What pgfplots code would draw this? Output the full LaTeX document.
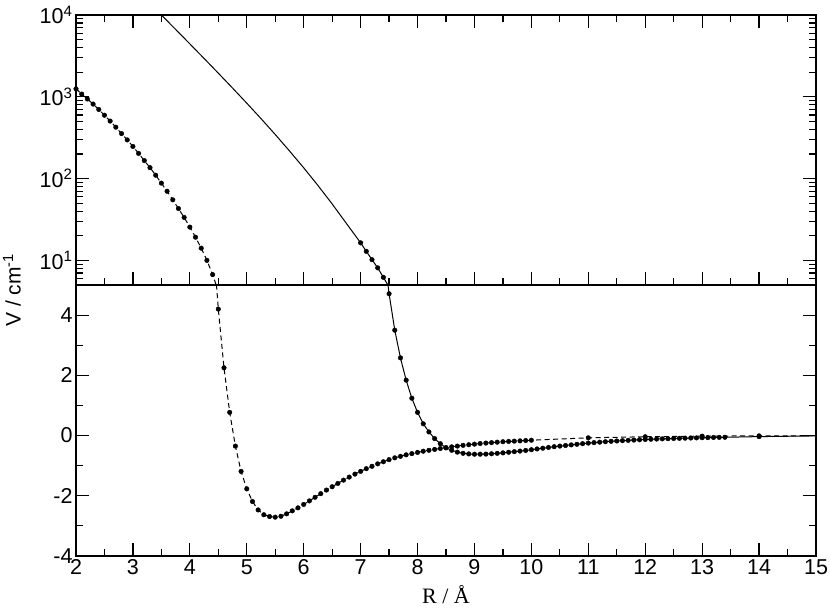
\documentclass[border=0pt]{standalone}
\usepackage{fontspec}
\setmainfont{Liberation Sans}
\newfontfamily\seriffont{Liberation Serif}
\usepackage{pgfplots}
\pgfplotsset{compat=1.18}
\begin{document}
\begin{tikzpicture}[x=1pt,y=1pt]
\path[use as bounding box] (0,0) rectangle (830,-610);
\pgfplotsset{
  every axis/.append style={
    scale only axis, width=740pt,
    xmin=2, xmax=15,
    axis line style={line width=1.6pt},
    every tick/.style={line width=1.2pt, black},
    major tick length=13pt, minor tick length=7pt,
    tick align=inside,
    xtick={2,3,4,5,6,7,8,9,10,11,12,13,14,15},
    minor xtick={2.5,3.5,4.5,5.5,6.5,7.5,8.5,9.5,10.5,11.5,12.5,13.5,14.5},
    ticklabel style={font=\fontsize{21.5}{25}\selectfont},
    /pgf/number format/assume math mode=true,
    ytick pos=both, yticklabel pos=left,
    clip=true,
  },
  Aline/.style={black, line width=1pt, dash pattern=on 5pt off 3.5pt},
  Bline/.style={black, line width=1pt},
  dot/.style={only marks, mark=*, mark size=2.3pt, mark options={solid, fill=black, draw=black}},
}
% ---------- top panel (log) ----------
\begin{axis}[at={(76pt,-15pt)}, anchor=north west, height=270pt,
  ymode=log, ymin=5, ymax=10000,
  ytick={10,100,1000,10000},
  yticklabels={10\textsuperscript{1},10\textsuperscript{2},10\textsuperscript{3},10\textsuperscript{4}},
  minor ytick={6,7,8,9,20,30,40,50,60,70,80,90,200,300,400,500,600,700,800,900,2000,3000,4000,5000,6000,7000,8000,9000},
  xticklabels={}, xtick pos=both]
\addplot[Aline] coordinates {
(2.0,1250)(2.1,1080)(2.2,940)(2.3,815)(2.4,700)(2.5,595)(2.6,505)(2.7,425)(2.8,355)(2.9,297)
(3.0,247)(3.1,203)(3.2,166)(3.3,136)(3.4,110)(3.5,88)(3.6,70)(3.7,55)(3.8,43)(3.9,33.5)
(4.0,25.5)(4.1,19.2)(4.2,14.1)(4.3,10.0)(4.4,6.7)(4.5,4.2)};
\addplot[dot] coordinates {
(2.0,1250)(2.1,1080)(2.2,940)(2.3,815)(2.4,700)(2.5,595)(2.6,505)(2.7,425)(2.8,355)(2.9,297)
(3.0,247)(3.1,203)(3.2,166)(3.3,136)(3.4,110)(3.5,88)(3.6,70)(3.7,55)(3.8,43)(3.9,33.5)
(4.0,25.5)(4.1,19.2)(4.2,14.1)(4.3,10.0)(4.4,6.7)};
\addplot[Bline] coordinates {
(3.45,10840)(3.5,10000)(3.75,6668)(4.0,4436)(4.25,2944)(4.5,1945)(4.75,1279)(5.0,836)
(5.25,541)(5.5,346)(5.75,218)(6.0,135.5)(6.25,82.4)(6.5,49.0)(6.75,28.3)
(7.0,16.4)(7.1,12.9)(7.2,10.2)(7.3,8.1)(7.4,6.2)(7.5,4.71)};
\addplot[dot] coordinates {(7.0,16.4)(7.1,12.9)(7.2,10.2)(7.3,8.1)(7.4,6.2)};
\end{axis}
% ---------- bottom panel (linear) ----------
\begin{axis}[at={(76pt,-285pt)}, anchor=north west, height=271pt,
  ymin=-4, ymax=5,
  ytick={-4,-2,0,2,4}, yticklabels={-4,-2,0,2,4},
  minor ytick={-3,-1,1,3},
  xticklabels={2,3,4,5,6,7,8,9,10,11,12,13,14,15},
  xtick pos=left]
\addplot[Aline] coordinates {
(4.4,6.7)(4.5,4.2)(4.6,2.25)(4.7,0.77)(4.8,-0.35)(4.9,-1.19)(5.0,-1.77)(5.1,-2.19)(5.2,-2.47)
(5.3,-2.63)(5.4,-2.69)(5.5,-2.71)(5.6,-2.68)(5.7,-2.60)(5.8,-2.50)(5.9,-2.40)(6.0,-2.29)
(6.1,-2.17)(6.2,-2.05)(6.3,-1.93)(6.4,-1.81)(6.5,-1.70)(6.6,-1.59)(6.7,-1.48)(6.8,-1.38)
(6.9,-1.28)(7.0,-1.19)(7.1,-1.10)(7.2,-1.02)(7.3,-0.94)(7.4,-0.87)(7.5,-0.80)(7.6,-0.74)
(7.7,-0.69)(7.8,-0.64)(7.9,-0.60)(8.0,-0.56)(8.1,-0.52)(8.2,-0.49)(8.3,-0.46)(8.4,-0.43)
(8.5,-0.40)(8.6,-0.375)(8.7,-0.35)(8.8,-0.325)(8.9,-0.305)(9.0,-0.285)(9.1,-0.265)(9.2,-0.25)
(9.3,-0.235)(9.4,-0.22)(9.5,-0.205)(9.6,-0.195)(9.7,-0.185)(9.8,-0.175)(9.9,-0.165)(10.0,-0.155)
(11,-0.075)(12,-0.04)(13,-0.02)(14,-0.01)(15,-0.005)};
\addplot[dot] coordinates {
(4.5,4.2)(4.6,2.25)(4.7,0.77)(4.8,-0.35)(4.9,-1.19)(5.0,-1.77)(5.1,-2.19)(5.2,-2.47)
(5.3,-2.63)(5.4,-2.69)(5.5,-2.71)(5.6,-2.68)(5.7,-2.60)(5.8,-2.50)(5.9,-2.40)(6.0,-2.29)
(6.1,-2.17)(6.2,-2.05)(6.3,-1.93)(6.4,-1.81)(6.5,-1.70)(6.6,-1.59)(6.7,-1.48)(6.8,-1.38)
(6.9,-1.28)(7.0,-1.19)(7.1,-1.10)(7.2,-1.02)(7.3,-0.94)(7.4,-0.87)(7.5,-0.80)(7.6,-0.74)
(7.7,-0.69)(7.8,-0.64)(7.9,-0.60)(8.0,-0.56)(8.1,-0.52)(8.2,-0.49)(8.3,-0.46)(8.4,-0.43)
(8.5,-0.40)(8.6,-0.375)(8.7,-0.35)(8.8,-0.325)(8.9,-0.305)(9.0,-0.285)(9.1,-0.265)(9.2,-0.25)
(9.3,-0.235)(9.4,-0.22)(9.5,-0.205)(9.6,-0.195)(9.7,-0.185)(9.8,-0.175)(9.9,-0.165)(10.0,-0.155)
(11,-0.075)(12,-0.04)(13,-0.02)(14,-0.01)};
\addplot[Bline] coordinates {
(7.3,8.1)(7.4,6.2)(7.5,4.71)(7.6,3.50)(7.7,2.58)(7.8,1.84)(7.9,1.24)(8.0,0.77)(8.1,0.39)
(8.2,0.12)(8.3,-0.10)(8.4,-0.27)(8.5,-0.41)(8.6,-0.49)(8.7,-0.55)(8.8,-0.59)(8.9,-0.61)
(9.0,-0.62)(9.1,-0.62)(9.2,-0.615)(9.3,-0.605)(9.4,-0.59)(9.5,-0.575)(9.6,-0.555)(9.7,-0.535)
(9.8,-0.515)(9.9,-0.495)(10.0,-0.47)(10.1,-0.445)(10.2,-0.42)(10.3,-0.395)(10.4,-0.37)
(10.5,-0.35)(10.6,-0.33)(10.7,-0.31)(10.8,-0.29)(10.9,-0.27)(11.0,-0.25)(11.1,-0.235)
(11.2,-0.22)(11.3,-0.205)(11.4,-0.19)(11.5,-0.18)(11.6,-0.17)(11.7,-0.16)(11.8,-0.15)
(11.9,-0.14)(12.0,-0.13)(12.1,-0.123)(12.2,-0.116)(12.3,-0.11)(12.4,-0.104)(12.5,-0.098)
(12.6,-0.092)(12.7,-0.087)(12.8,-0.082)(12.9,-0.077)(13.0,-0.072)(13.1,-0.068)(13.2,-0.064)
(13.3,-0.06)(13.4,-0.057)(14,-0.035)(15,-0.012)};
\addplot[dot] coordinates {
(7.5,4.71)(7.6,3.50)(7.7,2.58)(7.8,1.84)(7.9,1.24)(8.0,0.77)(8.1,0.39)
(8.2,0.12)(8.3,-0.10)(8.4,-0.27)(8.5,-0.41)(8.6,-0.49)(8.7,-0.55)(8.8,-0.59)(8.9,-0.61)
(9.0,-0.62)(9.1,-0.62)(9.2,-0.615)(9.3,-0.605)(9.4,-0.59)(9.5,-0.575)(9.6,-0.555)(9.7,-0.535)
(9.8,-0.515)(9.9,-0.495)(10.0,-0.47)(10.1,-0.445)(10.2,-0.42)(10.3,-0.395)(10.4,-0.37)
(10.5,-0.35)(10.6,-0.33)(10.7,-0.31)(10.8,-0.29)(10.9,-0.27)(11.0,-0.25)(11.1,-0.235)
(11.2,-0.22)(11.3,-0.205)(11.4,-0.19)(11.5,-0.18)(11.6,-0.17)(11.7,-0.16)(11.8,-0.15)
(11.9,-0.14)(12.0,-0.13)(12.1,-0.123)(12.2,-0.116)(12.3,-0.11)(12.4,-0.104)(12.5,-0.098)
(12.6,-0.092)(12.7,-0.087)(12.8,-0.082)(12.9,-0.077)(13.0,-0.072)(13.1,-0.068)(13.2,-0.064)
(13.3,-0.06)(13.4,-0.057)(14,-0.035)};
\end{axis}
\node[rotate=90, font=\fontsize{21}{25}\selectfont] at (12,-290) {V / cm\textsuperscript{-1}};
\node[anchor=base, font=\seriffont\fontsize{22}{26}\selectfont] at (446,-603) {R / Å};
\end{tikzpicture}
\end{document}
